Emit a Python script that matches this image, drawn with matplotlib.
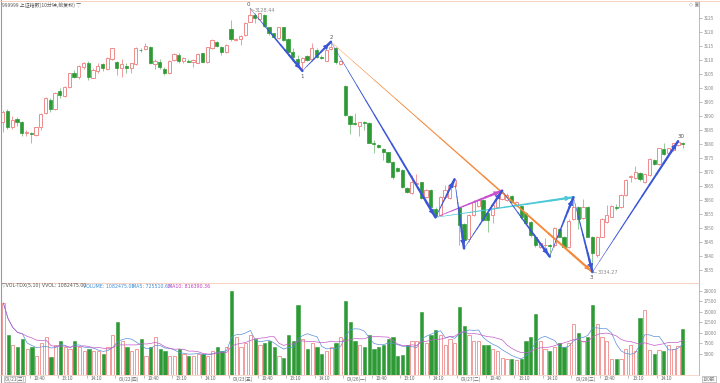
import numpy as np
import pandas as pd
import matplotlib.pyplot as plt

plt.rcParams['font.family'] = ['Noto Sans CJK SC', 'DejaVu Sans']

# 10-minute bars, 6 trading days x 24 bars
open_ = [3088.0, 3091.8, 3086.0, 3088.8, 3088.0, 3083.8, 3083.9, 3083.2, 3086.0, 3091.0,
         3095.7, 3092.4, 3099.0, 3097.1, 3100.2, 3105.2, 3103.8, 3107.6, 3108.8, 3103.7,
         3106.2, 3108.4, 3106.7, 3110.2, 3109.2, 3107.3, 3107.9, 3107.0, 3108.6, 3113.7,
         3113.9, 3114.5, 3108.4, 3109.4, 3106.8, 3105.2, 3110.0, 3111.8, 3109.6, 3109.8,
         3109.2, 3109.0, 3112.4, 3109.2, 3114.2, 3116.5, 3114.8, 3112.7, 3121.0, 3117.1,
         3117.4, 3118.9, 3123.7, 3126.1, 3124.5, 3126.1, 3121.7, 3119.5, 3117.7, 3121.7,
         3117.4, 3112.8, 3110.2, 3109.2, 3111.4, 3110.2, 3113.6, 3111.2, 3109.8, 3113.8,
         3114.4, 3108.6, 3100.7, 3090.1, 3087.6, 3086.5, 3087.7, 3087.6, 3080.4, 3079.6,
         3078.1, 3077.0, 3073.7, 3071.3, 3070.7, 3064.4, 3062.4, 3065.7, 3066.3, 3061.2,
         3063.6, 3056.8, 3054.6, 3060.9, 3060.6, 3065.1, 3057.6, 3051.4, 3045.9, 3054.6,
         3057.9, 3060.0, 3055.2, 3054.6, 3057.6, 3060.2, 3060.0, 3061.5, 3058.2, 3057.9,
         3055.2, 3052.2, 3046.9, 3043.3, 3043.8, 3043.8, 3044.0, 3049.5, 3046.9, 3043.3,
         3053.1, 3057.6, 3053.5, 3057.6, 3046.9, 3040.3, 3046.9, 3052.3, 3054.0, 3057.6,
         3057.4, 3061.8, 3068.1, 3067.7, 3069.5, 3066.5, 3068.9, 3074.3, 3072.9, 3078.1,
         3076.7, 3077.9, 3079.6, 3080.2]
close = [3091.5, 3086.0, 3088.6, 3088.0, 3084.0, 3084.2, 3083.6, 3086.0, 3090.6, 3096.3,
         3092.4, 3098.3, 3097.4, 3100.5, 3105.2, 3103.8, 3107.9, 3109.0, 3104.0, 3106.4,
         3107.9, 3107.0, 3110.6, 3114.2, 3107.0, 3108.4, 3107.3, 3108.8, 3114.2, 3113.4,
         3115.0, 3109.0, 3109.6, 3107.4, 3105.5, 3109.6, 3112.0, 3109.8, 3110.6, 3109.4,
         3110.0, 3112.1, 3109.4, 3114.5, 3117.1, 3115.0, 3113.0, 3115.4, 3117.4, 3117.4,
         3118.6, 3123.3, 3126.1, 3124.9, 3126.7, 3122.1, 3119.5, 3118.1, 3121.7, 3117.1,
         3113.0, 3111.0, 3109.0, 3110.6, 3110.0, 3114.2, 3111.2, 3110.6, 3113.6, 3114.5,
         3109.2, 3109.6, 3090.4, 3087.1, 3087.1, 3087.7, 3087.4, 3080.5, 3080.1, 3078.8,
         3077.3, 3073.5, 3068.1, 3070.5, 3064.5, 3062.7, 3066.5, 3066.2, 3060.8, 3063.6,
         3057.6, 3054.3, 3061.2, 3063.6, 3065.1, 3067.1, 3051.1, 3045.7, 3054.6, 3059.4,
         3060.0, 3052.9, 3052.9, 3058.2, 3060.6, 3062.6, 3061.8, 3059.4, 3059.4, 3054.1,
         3051.9, 3047.5, 3043.9, 3044.5, 3044.0, 3043.6, 3049.9, 3046.9, 3043.3, 3052.6,
         3057.4, 3053.1, 3057.6, 3046.9, 3040.9, 3046.9, 3053.1, 3054.6, 3057.9, 3057.0,
         3061.8, 3067.1, 3068.6, 3070.1, 3067.4, 3069.3, 3074.5, 3072.7, 3078.4, 3076.4,
         3078.4, 3080.2, 3080.8, 3080.1]
high = [3092.1, 3092.4, 3090.0, 3089.5, 3088.3, 3085.0, 3084.4, 3086.2, 3091.0, 3096.9,
        3096.3, 3098.7, 3099.9, 3100.7, 3105.5, 3106.4, 3108.2, 3109.4, 3109.6, 3107.0,
        3108.8, 3109.0, 3111.0, 3114.4, 3109.6, 3110.2, 3108.8, 3109.0, 3114.5, 3114.2,
        3116.2, 3115.0, 3110.2, 3110.2, 3107.6, 3110.0, 3112.4, 3112.6, 3111.2, 3110.2,
        3110.2, 3112.4, 3112.6, 3114.8, 3117.4, 3116.8, 3115.1, 3115.6, 3124.3, 3117.7,
        3118.9, 3123.6, 3128.44, 3126.7, 3126.9, 3126.4, 3121.9, 3119.8, 3121.9, 3121.9,
        3117.7, 3114.2, 3111.8, 3111.2, 3111.8, 3116.2, 3114.2, 3111.8, 3113.8, 3116.5,
        3114.8, 3110.0, 3101.0, 3090.4, 3090.9, 3088.0, 3088.3, 3088.0, 3081.4, 3080.0,
        3078.5, 3077.3, 3073.9, 3071.9, 3071.0, 3064.8, 3068.9, 3069.3, 3066.5, 3063.9,
        3063.8, 3057.6, 3061.6, 3065.4, 3065.4, 3067.4, 3058.0, 3051.7, 3055.0, 3060.0,
        3060.2, 3060.5, 3055.8, 3058.5, 3060.8, 3063.3, 3062.4, 3061.8, 3059.8, 3058.2,
        3055.8, 3052.6, 3047.5, 3045.1, 3046.3, 3044.3, 3050.2, 3049.9, 3047.3, 3053.1,
        3061.0, 3057.9, 3060.2, 3057.9, 3047.1, 3047.1, 3053.4, 3058.2, 3058.1, 3058.6,
        3062.0, 3067.4, 3068.9, 3072.1, 3070.1, 3069.5, 3074.9, 3074.5, 3078.7, 3080.5,
        3078.7, 3080.5, 3081.0, 3080.8]
low = [3084.4, 3085.2, 3085.2, 3086.4, 3082.9, 3082.9, 3080.5, 3082.9, 3085.0, 3090.7,
       3091.5, 3092.1, 3096.3, 3096.9, 3099.9, 3103.4, 3103.1, 3106.7, 3102.9, 3103.4,
       3105.2, 3106.2, 3106.4, 3110.0, 3104.6, 3103.8, 3105.2, 3105.2, 3108.2, 3113.0,
       3113.6, 3108.6, 3106.7, 3106.8, 3104.6, 3105.0, 3109.8, 3108.8, 3108.8, 3109.2,
       3107.6, 3108.8, 3109.2, 3108.9, 3113.9, 3114.8, 3111.8, 3112.5, 3116.9, 3116.9,
       3115.4, 3118.7, 3123.5, 3123.1, 3124.3, 3121.9, 3118.9, 3117.7, 3117.4, 3116.8,
       3112.6, 3109.8, 3108.2, 3106.1, 3109.6, 3110.0, 3110.6, 3110.4, 3109.5, 3113.6,
       3108.5, 3108.2, 3090.0, 3083.5, 3086.8, 3082.9, 3085.0, 3080.2, 3076.7, 3078.5,
       3074.3, 3073.1, 3067.4, 3070.1, 3064.2, 3062.4, 3062.0, 3065.4, 3060.5, 3060.8,
       3057.0, 3053.8, 3054.3, 3060.6, 3060.2, 3064.8, 3043.9, 3042.7, 3045.1, 3054.3,
       3057.6, 3052.6, 3048.7, 3051.7, 3057.0, 3060.0, 3059.6, 3059.0, 3057.8, 3053.1,
       3051.4, 3046.9, 3043.3, 3042.7, 3041.5, 3039.8, 3043.3, 3046.7, 3043.0, 3043.0,
       3052.9, 3049.5, 3053.1, 3046.7, 3034.27, 3039.7, 3046.7, 3051.9, 3053.8, 3056.4,
       3057.0, 3061.4, 3066.5, 3067.4, 3066.9, 3066.2, 3068.6, 3072.4, 3072.5, 3076.1,
       3076.3, 3077.5, 3079.3, 3078.5]
# volume in units of 100 shares (axis units)
volume = [17000, 9500, 7000, 6500, 8500, 6000, 6500, 4400, 7500, 9000, 4200, 7000,
          8000, 6500, 6000, 8000, 6500, 5500, 6000, 5500, 5500, 5000, 6500, 9500,
          12500, 8000, 6500, 5500, 6000, 8500, 4500, 6500, 9000, 6000, 5500, 4300,
          4400, 6000, 5000, 4500, 4500, 5000, 5000, 4500, 5500, 6500, 5500, 6500,
          20000, 9000, 6500, 7500, 9500, 8500, 7000, 7500, 8000, 6500, 4400, 3900,
          9500, 8000, 16500, 8500, 6000, 7500, 6500, 5000, 5500, 6500, 7500, 9000,
          17500, 12500, 8000, 7000, 6500, 9500, 6000, 6500, 7000, 8500, 9000, 4500,
          4600, 7000, 8000, 8000, 15000, 7500, 9500, 10500, 9500, 7000, 8500, 7500,
          16000, 11500, 9500, 8000, 8000, 7000, 7000, 6000, 5500, 3900, 3700, 3600,
          3500, 3800, 8000, 9000, 14500, 8000, 6000, 5500, 6500, 7500, 6500, 7500,
          12000, 10000, 8000, 9000, 16500, 12000, 9000, 8000, 3800, 3600, 3700, 6000,
          7000, 5500, 13500, 15365, 5800, 4900, 5800, 5700, 7000, 6000, 6750, 10825]

day_labels = ['09/21(三)', '09/22(四)', '09/23(五)', '09/26(一)', '09/27(二)', '09/28(三)']
time_labels = ['10:40', '13:10', '14:10']

# zigzag turning points: (bar index, high or low)
zz_points = [(52, 'H'), (63, 'L'), (69, 'H'), (91, 'L'), (95, 'H'), (97, 'L'),
             (105, 'H'), (115, 'L'), (120, 'H'), (124, 'L'), (142, 'H')]

UP = '#f08c8c'
DOWN = '#2e9a36'
GRAY = '#8a8a8a'

n = len(close)
idx = np.arange(n)
o = np.array(open_)
c = np.array(close)
up = c >= o

W, H = 720, 383
fig = plt.figure(figsize=(7.2, 3.83), dpi=100)


def px_axes(x0, y0, x1, y1):
    return fig.add_axes([x0 / W, 1 - y1 / H, (x1 - x0) / W, (y1 - y0) / H])


ax = px_axes(1, 1, 699, 283)
axv = px_axes(1, 283, 699, 375)
xlim = (-0.36, 146.4)

# candles
ax.vlines(idx[up], np.array(low)[up], np.array(high)[up], color=UP, lw=0.6, zorder=2)
ax.vlines(idx[~up], np.array(low)[~up], np.array(high)[~up], color=DOWN, lw=0.6, alpha=0.6, zorder=2)
body_lo = np.minimum(o, c)
body_h = np.maximum(np.abs(c - o), 0.15)
ax.bar(idx[up], body_h[up], bottom=body_lo[up], width=0.68, facecolor='white',
       edgecolor=UP, linewidth=0.7, zorder=3)
ax.bar(idx[~up], body_h[~up], bottom=body_lo[~up], width=0.68, facecolor=DOWN,
       edgecolor=DOWN, linewidth=0.5, zorder=3)


def taper(i0, p0, i1, p1, color, w0=0.3, w1=1.8, seg=12, head=True):
    xs = np.linspace(i0, i1, seg + 1)
    ys = np.linspace(p0, p1, seg + 1)
    for k in range(seg):
        ax.plot(xs[k:k + 2], ys[k:k + 2], color=color,
                lw=w0 + (w1 - w0) * k / (seg - 1), solid_capstyle='round', zorder=5)
    if head:
        ax.annotate('', xy=(i1, p1), xytext=(xs[-3], ys[-3]),
                    arrowprops=dict(arrowstyle='-|>,head_length=0.5,head_width=0.25',
                                    color=color, lw=0.8, mutation_scale=6), zorder=6)


zz_x = [p[0] for p in zz_points]
zz_y = [high[i] if k == 'H' else low[i] for i, k in zz_points]

# secondary lines
taper(zz_x[2], zz_y[2], zz_x[9], zz_y[9], '#f58a3c', w0=0.3, w1=1.6)
taper(zz_x[3], zz_y[3], zz_x[6], zz_y[6], '#c84fd0', w0=0.4, w1=1.8)
taper(zz_x[3], zz_y[3], zz_x[8], zz_y[8], '#4cc8d8', w0=0.4, w1=1.6)
# main zigzag
for a in range(len(zz_x) - 1):
    taper(zz_x[a], zz_y[a], zz_x[a + 1], zz_y[a + 1], '#3a56d6')

# zigzag labels
lab_kw = dict(fontsize=4, color='#555555', ha='center', family='DejaVu Sans')
ax.text(zz_x[0] - 0.4, zz_y[0] + 0.6, '0', va='bottom', **lab_kw)
ax.text(zz_x[1], zz_y[1] - 1.0, '1', va='top', **lab_kw)
ax.text(zz_x[2] + 0.2, zz_y[2] + 0.6, '2', va='bottom', **lab_kw)
ax.text(zz_x[9] - 0.2, zz_y[9] - 0.9, '3', va='top', **lab_kw)
ax.text(zz_x[10] + 0.6, zz_y[10] + 0.9, '30', va='bottom', **lab_kw)
ax.plot([zz_x[0], zz_x[0] + 0.9], [zz_y[0], zz_y[0] - 0.9], color=GRAY, lw=0.4, zorder=6)
ax.text(zz_x[0] + 1.0, zz_y[0] - 0.9, '%.2f' % zz_y[0], fontsize=3.6, color=GRAY,
        ha='left', va='center', family='DejaVu Sans')
ax.plot([zz_x[9], zz_x[9] + 0.9], [zz_y[9], zz_y[9] - 0.3], color=GRAY, lw=0.4, zorder=6)
ax.text(zz_x[9] + 1.0, zz_y[9] - 0.3, '%.2f' % zz_y[9], fontsize=3.6, color=GRAY,
        ha='left', va='center', family='DejaVu Sans')

ax.set_xlim(*xlim)
ax.set_ylim(3030.36, 3131.07)
ax.yaxis.tick_right()
ax.set_yticks(np.arange(3035, 3126, 5))
ax.tick_params(axis='y', labelsize=3.4, colors=GRAY, length=2, width=0.4, pad=1.5)
ax.set_xticks([])
for s in ['left', 'top', 'bottom']:
    ax.spines[s].set_visible(False)
ax.spines['right'].set_color('#b0b0b0')
ax.spines['right'].set_linewidth(0.6)

# volume panel
vol = np.array(volume, dtype=float)
axv.bar(idx[up], vol[up], width=0.68, facecolor='white', edgecolor=UP, linewidth=0.6)
axv.bar(idx[~up], vol[~up], width=0.68, facecolor=DOWN, edgecolor=DOWN, linewidth=0.4)
vs = pd.Series(vol)
axv.plot(idx, vs.rolling(5, min_periods=1).mean(), color='#5b8fd8', lw=0.5)
axv.plot(idx, vs.rolling(10, min_periods=1).mean(), color='#c25bc8', lw=0.5)
axv.set_xlim(*xlim)
axv.set_ylim(-119, 21786)
axv.yaxis.tick_right()
axv.set_yticks(np.arange(5000, 20001, 2500))
axv.set_yticklabels(['%d' % v for v in np.arange(5000, 20001, 2500)])
axv.tick_params(axis='y', labelsize=3.4, colors=GRAY, length=2, width=0.4, pad=1.5)
for s in ['left', 'bottom']:
    axv.spines[s].set_visible(False)
axv.spines['top'].set_color('#f3c9b8')
axv.spines['top'].set_linewidth(0.6)
axv.spines['right'].set_color('#b0b0b0')
axv.spines['right'].set_linewidth(0.6)

# time axis
tick_pos = []
for d in range(len(day_labels)):
    for j in range(4):
        tick_pos.append(d * 24 + j * 6)
axv.set_xticks([t - 0.5 for t in tick_pos])
axv.set_xticklabels([])
axv.tick_params(axis='x', length=2, width=0.4, colors=GRAY)
ty = 1 - 379 / H
for d, dl in enumerate(day_labels):
    for j in range(4):
        t = d * 24 + j * 6
        txt = dl if j == 0 else time_labels[j - 1]
        xf = (1 + (t + 0.4 - xlim[0]) / (xlim[1] - xlim[0]) * 698) / W
        kw = {}
        if d == 0 and j == 0:
            kw['bbox'] = dict(boxstyle='square,pad=0.15', fc='white', ec='#999999', lw=0.4)
        fig.text(xf, ty, txt, fontsize=3.4, color='#666666', ha='left', va='center', **kw)
fig.text(703 / W, ty, '100股', fontsize=3.4, color='#666666', ha='left', va='center',
         bbox=dict(boxstyle='square,pad=0.15', fc='white', ec='#999999', lw=0.4))

# frame lines
fig.add_artist(plt.Line2D([0.5 / W, 0.5 / W], [0, 1], color='#999999', lw=0.8))
fig.add_artist(plt.Line2D([0, 1], [1 - 1 / H, 1 - 1 / H], color='#f3c9b8', lw=0.6))
fig.add_artist(plt.Line2D([0, 699 / W], [1 - 375 / H, 1 - 375 / H], color='#f3c9b8', lw=0.5))

# titles
fig.text(2 / W, 1 - 5 / H, '999999 上证指数(10分钟,前复权) ▽', fontsize=3.6, color='#555555',
         ha='left', va='center')
fig.text(689 / W, 1 - 5 / H, '◇ ▣', fontsize=3.6, color=GRAY, ha='left', va='center',
         family='DejaVu Sans')
vy = 1 - 286 / H
fig.text(2 / W, vy, '▽VOL-TDX(5,10) VVOL: 1082475.00', fontsize=3.4, color='#555555',
         ha='left', va='center', family='DejaVu Sans')
fig.text(83 / W, vy, 'VOLUME: 1082475.00', fontsize=3.4, color='#3d8ed8', ha='left',
         va='center', family='DejaVu Sans')
fig.text(132 / W, vy, 'MA5: 725510.63', fontsize=3.4, color='#3d8ed8', ha='left',
         va='center', family='DejaVu Sans')
fig.text(168 / W, vy, 'MA10: 816390.36', fontsize=3.4, color='#c040c0', ha='left',
         va='center', family='DejaVu Sans')

fig.savefig('out.png', dpi=100, facecolor='white')
